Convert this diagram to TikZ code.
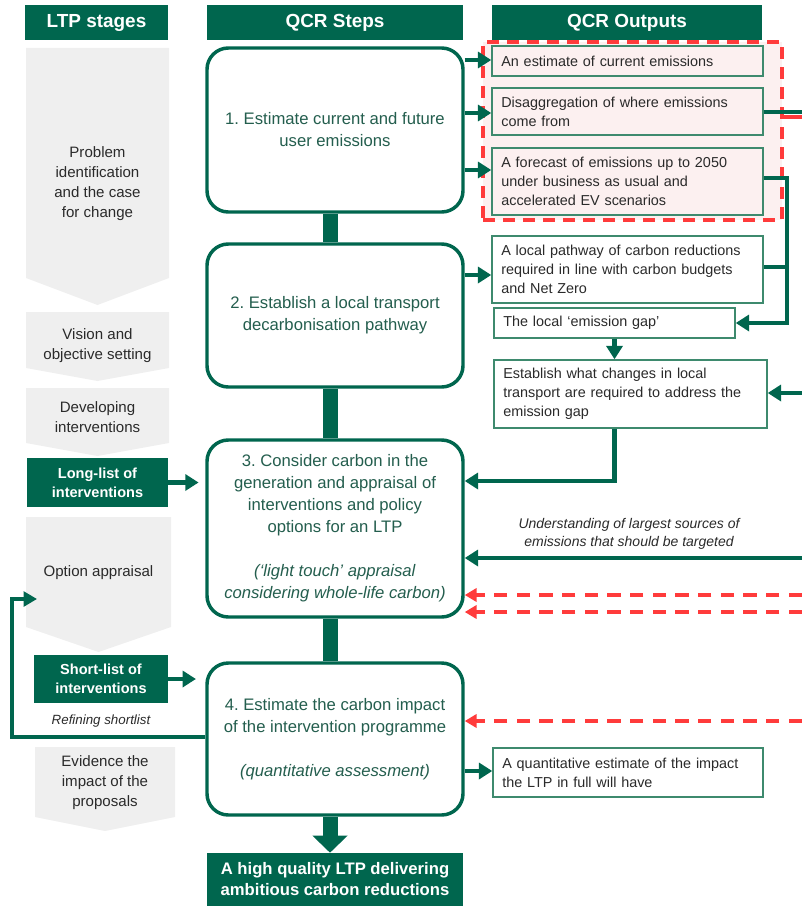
\documentclass[tikz,border=0pt]{standalone}
\usepackage{fontspec}
\setmainfont{Liberation Sans}
\usetikzlibrary{arrows.meta,calc}
\definecolor{dg}{HTML}{00664E}
\definecolor{stxt}{HTML}{245E4E}
\definecolor{obord}{HTML}{3E8A6E}
\definecolor{pinkf}{HTML}{FCF0F0}
\definecolor{chev}{HTML}{EFEFEF}
\definecolor{rd}{HTML}{FF3B3B}
\definecolor{gtxt}{HTML}{2A2A2A}
\frenchspacing
\begin{document}
\begin{tikzpicture}[x=0.75pt,y=-0.75pt,
  hdr/.style={fill=dg,text=white,font=\bfseries\fontsize{14.2}{16}\selectfont,inner sep=0pt,minimum height=26.25pt},
  stg/.style={text=gtxt,font=\fontsize{11.3}{15}\selectfont,align=center,inner sep=0pt},
  lst/.style={fill=dg,text=white,font=\bfseries\fontsize{10.9}{14.25}\selectfont,align=center,inner sep=0pt},
  stepbox/.style={draw=dg,line width=2.6pt,rounded corners=16pt,fill=white,minimum width=192pt,inner sep=0pt,text=stxt,font=\fontsize{12.5}{16.5}\selectfont,align=center},
  outbox/.style={draw=obord,line width=1.1pt,inner xsep=7pt,inner ysep=0pt,align=left,text=gtxt,font=\fontsize{10.8}{14.2}\selectfont},
  garr/.style={draw=dg,line width=3.3pt,-{Triangle[width=12pt,length=10pt]}},
  gline/.style={draw=dg,line width=3.3pt},
  rarr/.style={draw=rd,line width=2.6pt,dash pattern=on 10pt off 7pt,-{Triangle[width=10pt,length=9pt]}},
  bar/.style={draw=dg,line width=11.25pt},
]
\useasboundingbox (0,0) rectangle (802,906);

% headers
\node[hdr,minimum width=107.25pt] (hL) at (96.5,22.5) {LTP stages};
\node[hdr,minimum width=192pt] (hS) at (335,22.5) {QCR Steps};
\node[hdr,minimum width=202.5pt] (hO) at (627,22.5) {QCR Outputs};

% LTP stage chevrons
\fill[chev] (26,48) -- (169,48) -- (169,278) -- (97.5,305) -- (26,278) -- cycle;
\node[stg] (c1) at (97.5,184) {Problem\\identification\\and the case\\for change};
\fill[chev] (26,312) -- (169,312) -- (169,368) -- (97.5,381) -- (26,368) -- cycle;
\node[stg] (c2) at (97.5,346) {Vision and\\objective setting};
\fill[chev] (26,388) -- (169,388) -- (169,443) -- (97.5,456) -- (26,443) -- cycle;
\node[stg] (c3) at (97.5,417) {Developing\\interventions};
\node[lst,minimum width=105.75pt,minimum height=36.75pt] (LL) at (97.5,482.5) {Long-list of\\interventions};
\fill[chev] (26,517) -- (171,517) -- (171,627) -- (98.5,652) -- (26,627) -- cycle;
\node[stg] (c4) at (98.5,573) {Option appraisal};
\node[lst,minimum width=100.5pt,minimum height=36pt] (SL) at (101,679) {Short-list of\\interventions};
\node[text=gtxt,font=\itshape\fontsize{10}{12}\selectfont,inner sep=0pt] (ref) at (101,721) {Refining shortlist};
\fill[chev] (35,747) -- (175,747) -- (175,817) -- (105,831) -- (35,817) -- cycle;
\node[stg] (c5) at (105,783) {Evidence the\\impact of the\\proposals};

% red dashed group
\node[draw=rd,fill=pinkf,line width=2.6pt,dash pattern=on 9pt off 6pt,minimum width=224.25pt,minimum height=133.5pt,inner sep=0pt] (redbox) at (632.5,131) {};
\draw[draw=rd,line width=2.6pt] (redbox.east |- 0,117) -- (802,117);

% QCR steps
\coordinate (bx) at (330,0);
\node[stepbox,minimum height=123pt] (s1) at (335,130) {1. Estimate current and future\\user emissions};
\node[stepbox,minimum height=107.25pt] (s2) at (335,315.5) {2. Establish a local transport\\decarbonisation pathway};
\node[stepbox,minimum height=132.75pt] (s3) at (335,528.5) {3. Consider carbon in the\\generation and appraisal of\\interventions and policy\\options for an LTP\\[16.5pt]\textit{(‘light touch’ appraisal}\\\textit{considering whole-life carbon)}};
\node[stepbox,minimum height=114pt] (s4) at (335,739) {4. Estimate the carbon impact\\of the intervention programme\\[16.5pt]\textit{(quantitative assessment)}};
\node[fill=dg,text=white,font=\bfseries\fontsize{12.5}{15.75}\selectfont,align=center,inner sep=0pt,minimum width=192pt,minimum height=39.75pt] (fin) at (335,879.5) {A high quality LTP delivering\\ambitious carbon reductions};

\draw[bar] (bx |- s1.south) -- (bx |- s2.north);
\draw[bar] (bx |- s2.south) -- (bx |- s3.north);
\draw[bar] (bx |- s3.south) -- (bx |- s4.north);
\draw[dg,line width=11.25pt,-{Triangle[width=25.5pt,length=12.75pt]}] (bx |- s4.south) -- (bx |- fin.north);

% QCR outputs
\node[outbox,text width=189.25pt,minimum height=22.5pt] (o1) at (627.5,61) {An estimate of current emissions};
\node[outbox,text width=189.25pt,minimum height=35.25pt] (o2) at (627.5,111.5) {Disaggregation of where emissions\\come from};
\node[outbox,text width=189.25pt,minimum height=50.25pt] (o3) at (627.5,181.5) {A forecast of emissions up to 2050\\under business as usual and\\accelerated EV scenarios};
\node[outbox,fill=white,text width=189.25pt,minimum height=50.25pt] (o4) at (627.5,269.5) {A local pathway of carbon reductions\\required in line with carbon budgets\\and Net Zero};
\node[outbox,fill=white,text width=166.75pt,minimum height=22.5pt] (o5) at (614.5,323) {The local ‘emission gap’};
\node[outbox,fill=white,text width=190.75pt,minimum height=51pt] (o6) at (630.5,394) {Establish what changes in local\\transport are required to address the\\emission gap};
\node[outbox,fill=white,text width=188.5pt,minimum height=36.75pt] (o7) at (628,772.5) {A quantitative estimate of the impact\\the LTP in full will have};
\node[text=gtxt,font=\itshape\fontsize{10.5}{14}\selectfont,align=center,inner sep=0pt] (und) at (629,534) {Understanding of largest sources of\\emissions that should be targeted};

% step -> output arrows
\draw[garr] (s1.east |- 0,60) -- (o1.west |- 0,60);
\draw[garr] (s1.east |- 0,113) -- (o2.west |- 0,113);
\draw[garr] (s1.east |- 0,170) -- (o3.west |- 0,170);
\draw[garr] (s2.east |- 0,275) -- (o4.west |- 0,275);
\draw[garr] (s4.east |- 0,771) -- (o7.west |- 0,771);

% right-hand loop
\coordinate (L1) at (787,178);
\coordinate (L2) at (787,323);
\draw[garr] (o3.east |- L1) -- (L1) -- (L2) -- (o5.east);
\draw[gline] (o4.east |- 0,267) -- (L1 |- 0,267);
\coordinate (E1) at (802,112);
\coordinate (E2) at (802,393);
\coordinate (E3) at (802,558);
\draw[gline] (o2.east |- E1) -- (E1);
\draw[garr] (E2) -- (o6.east |- E2);
\draw[garr] (o5.south) -- (o5.south |- o6.north);
\coordinate (J) at (613,481);
\draw[garr] (o5.south |- o6.south) -- (o5.south |- J) -- (s3.east |- J);
\draw[garr] (E3) -- (s3.east |- E3);

% red dashed arrows
\coordinate (E4) at (802,595);
\coordinate (E5) at (802,612);
\coordinate (E6) at (802,721);
\draw[rarr] (E4) -- (s3.east |- E4);
\draw[rarr] (E5) -- (s3.east |- E5);
\draw[rarr] (E6) -- (s4.east |- E6);

% left arrows
\draw[garr,shorten >=5pt] (LL.east) -- (s3.west |- LL.east);
\draw[garr,shorten >=7pt] (SL.east) -- (s4.west |- SL.east);
\coordinate (F1) at (12,737);
\coordinate (F2) at (12,599);
\coordinate (F3) at (37,599);
\draw[dg,line width=2.5pt,-{Triangle[width=11pt,length=10pt]}] (s4.west |- F1) -- (F1) -- (F2) -- (F3);
\end{tikzpicture}
\end{document}
